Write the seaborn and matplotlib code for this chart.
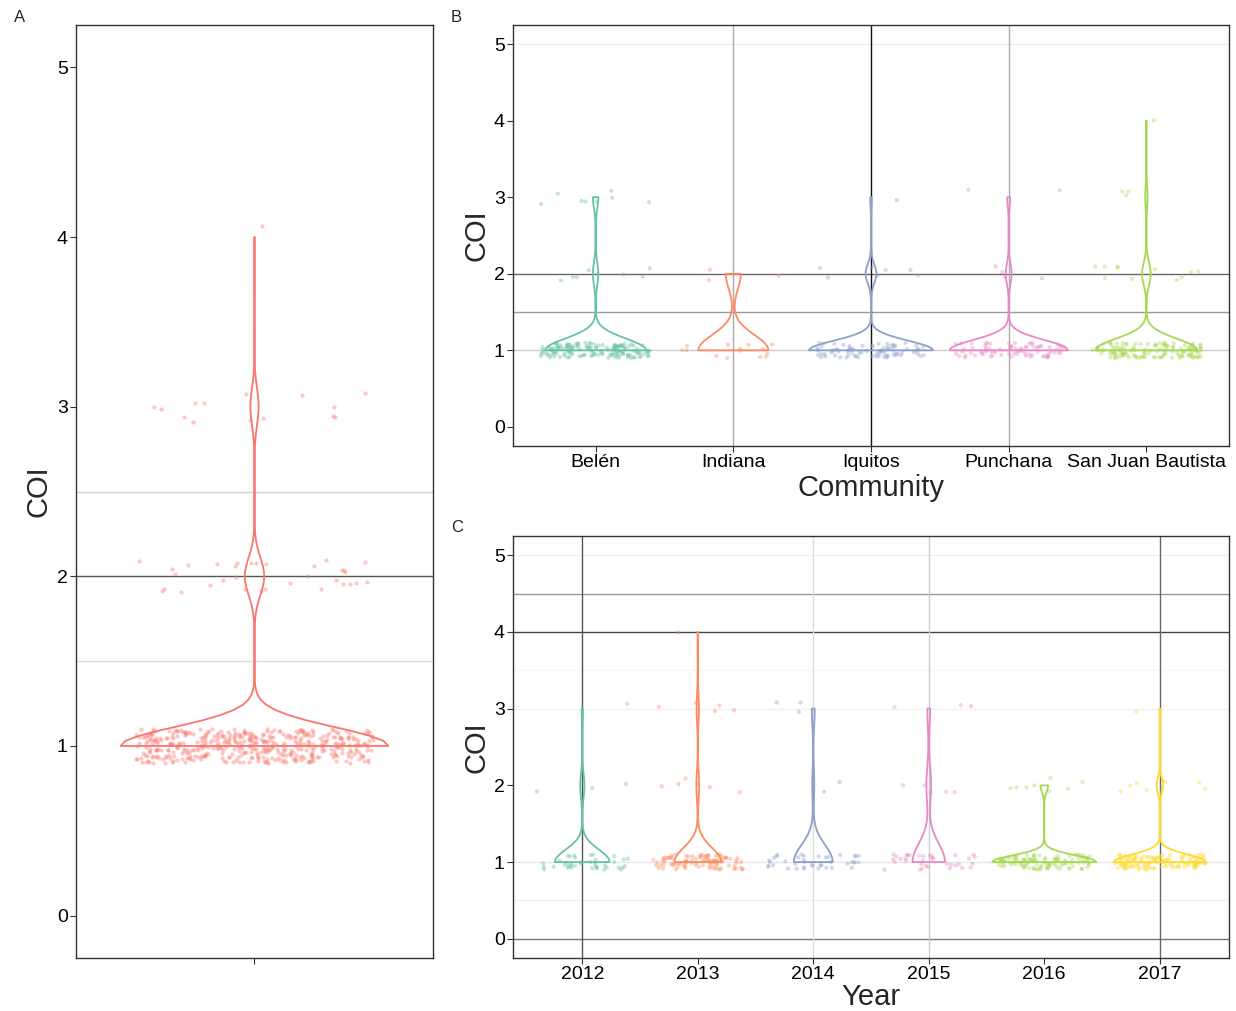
import numpy as np
import pandas as pd
import seaborn as sns
import matplotlib.pyplot as plt
from matplotlib.collections import PathCollection

# COI counts per community (values 1, 2, 3, 4)
communities = ["Belén", "Indiana", "Iquitos", "Punchana", "San Juan Bautista"]
comm_n1 = [150, 14, 80, 80, 130]
comm_n2 = [8, 3, 7, 4, 11]
comm_n3 = [8, 0, 1, 2, 3]
comm_n4 = [0, 0, 0, 0, 1]

# COI counts per year
years = ["2012", "2013", "2014", "2015", "2016", "2017"]
year_n1 = [40, 100, 40, 35, 109, 130]
year_n2 = [3, 6, 2, 5, 8, 9]
year_n3 = [1, 5, 3, 3, 0, 1]
year_n4 = [0, 1, 0, 0, 0, 0]

coi_levels = [1, 2, 3, 4]


def expand(groups, counts, name):
    rows = []
    for i, g in enumerate(groups):
        for lev, cnt in zip(coi_levels, counts):
            rows += [(g, lev)] * cnt[i]
    return pd.DataFrame(rows, columns=[name, "COI"])


df_comm = expand(communities, [comm_n1, comm_n2, comm_n3, comm_n4], "Community")
df_year = expand(years, [year_n1, year_n2, year_n3, year_n4], "Year")

sns.set_style("white")
plt.rcParams["font.family"] = ["Liberation Sans", "DejaVu Sans"]

np.random.seed(3)
rng = np.random.default_rng(7)

W, H = 1236, 1011
fig = plt.figure(figsize=(W / 100, H / 100), dpi=100)


def px_axes(l, r, t, b):
    return fig.add_axes([l / W, (H - b) / H, (r - l) / W, (b - t) / H])


def yjitter(ax):
    # geom_jitter-like vertical jitter on the points only
    for c in ax.collections:
        if isinstance(c, PathCollection):
            off = c.get_offsets()
            off[:, 1] = off[:, 1] + rng.uniform(-0.1, 0.1, len(off))
            c.set_offsets(off)


def style(ax, n):
    ax.set_ylim(-0.25, 5.25)
    ax.set_xlim(-0.6, n - 0.4)
    ax.set_yticks([0, 1, 2, 3, 4, 5])
    for s in ax.spines.values():
        s.set_color("#333333")
        s.set_linewidth(1)
    ax.tick_params(labelsize=14, colors="#333333", length=4, width=0.8, pad=2,
                   left=True, bottom=True)
    ax.tick_params(labelcolor="black")


set2 = sns.color_palette("Set2", 6)
viol_kw = dict(inner=None, cut=0, bw_adjust=0.9, width=0.9, fill=False,
               density_norm="area", common_norm=True, linewidth=1.3)
strip_kw = dict(jitter=0.4, size=3, alpha=0.4, linewidth=0, zorder=1)

# Panel A
axA = px_axes(76, 433, 25, 958)
for y, c in [(1.5, "#dddddd"), (2.0, "#555555"), (2.5, "#d4d4d4")]:
    axA.axhline(y, color=c, lw=1, zorder=0)
sns.stripplot(y=df_comm["COI"], color="#F8766D", ax=axA, **strip_kw)
yjitter(axA)
sns.violinplot(y=df_comm["COI"], color="#F8766D", ax=axA, **viol_kw)
style(axA, 1)
axA.set_xticks([0])
axA.set_xticklabels([""])
axA.set_ylabel("COI", fontsize=21, labelpad=3)

# Panel B
axB = px_axes(513, 1229, 25, 446)
for y, c in [(5.0, "#eeeeee"), (2.0, "#666666"), (1.5, "#9a9a9a"), (1.0, "#cccccc")]:
    axB.axhline(y, color=c, lw=1, zorder=0)
for x, c in [(1, "#aaaaaa"), (2, "#111111"), (3, "#aaaaaa")]:
    axB.axvline(x, color=c, lw=1, zorder=0)
sns.stripplot(data=df_comm, x="Community", y="COI", hue="Community",
              palette=set2[:5], legend=False, ax=axB, **strip_kw)
yjitter(axB)
sns.violinplot(data=df_comm, x="Community", y="COI", hue="Community",
               palette=set2[:5], legend=False, ax=axB, **viol_kw)
style(axB, 5)
axB.set_xlabel("Community", fontsize=21, labelpad=2)
axB.set_ylabel("COI", fontsize=21, labelpad=2)

# Panel C
axC = px_axes(513, 1229, 536, 958)
for y, c in [(5.0, "#f0f0f0"), (4.5, "#999999"), (4.0, "#444444"), (3.5, "#f5f5f5"),
             (3.0, "#f2f2f2"), (1.0, "#e6e6e6"), (0.5, "#f2f2f2"), (0.0, "#777777")]:
    axC.axhline(y, color=c, lw=1, zorder=0)
for x, c in [(0, "#555555"), (2, "#dddddd"), (3, "#cccccc"), (5, "#666666")]:
    axC.axvline(x, color=c, lw=1, zorder=0)
sns.stripplot(data=df_year, x="Year", y="COI", hue="Year",
              palette=set2, legend=False, ax=axC, **strip_kw)
yjitter(axC)
sns.violinplot(data=df_year, x="Year", y="COI", hue="Year",
               palette=set2, legend=False, ax=axC, **viol_kw)
style(axC, 6)
axC.set_xlabel("Year", fontsize=21, labelpad=0)
axC.set_ylabel("COI", fontsize=21, labelpad=2)

fig.text(14 / W, 1 - 17 / H, "A", fontsize=12, va="center")
fig.text(451 / W, 1 - 17 / H, "B", fontsize=12, va="center")
fig.text(451 / W, 1 - 527 / H, "C", fontsize=12, va="center")

fig.savefig("out.png", dpi=100)
